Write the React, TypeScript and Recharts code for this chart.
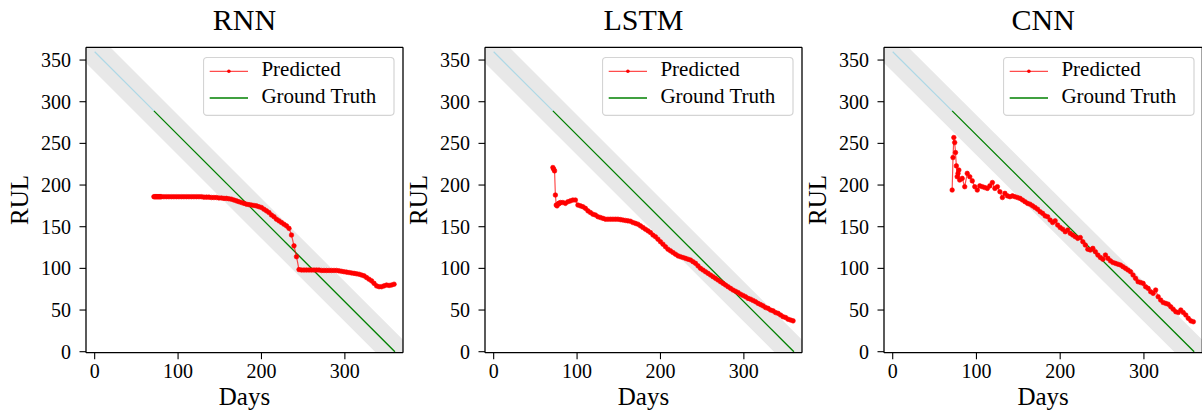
import React from 'react';
import { ComposedChart, Line, Area, XAxis, YAxis, ReferenceLine, Legend } from 'recharts';

const FONT = '"Liberation Serif", "Times New Roman", Times, serif';

const DAYS = [
  71, 72, 73, 74, 75, 76, 77, 78, 79, 80,
  83, 86, 89, 92, 95, 98, 101, 104, 107, 110,
  113, 116, 119, 122, 125, 128, 131, 134, 137, 140,
  143, 146, 149, 152, 155, 158, 161, 164, 167, 170,
  173, 176, 179, 182, 185, 188, 191, 194, 197, 200,
  203, 206, 209, 212, 215, 218, 221, 224, 227, 230,
  233, 236, 239, 242, 245, 248, 251, 254, 257, 260,
  263, 266, 269, 272, 275, 278, 281, 284, 287, 290,
  293, 296, 299, 302, 305, 308, 311, 314, 317, 320,
  323, 326, 329, 332, 335, 338, 341, 344, 347, 350,
  353, 356, 359,
];

const RNN_PRED = [
  186, 186, 186, 186, 186, 186, 186, 186, 186, 186,
  186, 186, 186, 186, 186, 186, 186, 186, 186, 186,
  186, 186, 186, 186, 186, 186, 185.5, 185.5, 185.5, 185,
  185, 185, 184.5, 184.5, 184, 184, 183.5, 183, 182, 181,
  180, 179, 178, 177, 176.5, 176, 175.5, 175, 174, 173,
  171, 169, 167, 164, 162, 159, 157, 155, 153, 151,
  148, 140, 127, 114, 98.5, 98, 98, 98, 98, 98,
  98, 98, 98, 97.5, 97.5, 97.5, 97.5, 97.5, 97.5, 97.5,
  97, 96.5, 96, 95.5, 95, 94.5, 94, 93.5, 93, 92,
  91, 89, 87, 85, 82, 79, 78, 78, 79, 80,
  79.5, 80, 81,
];

const LSTM_PRED = [
  221, 219, 217, 188, 176, 175, 177, 178, 178, 179,
  179, 178, 180, 181, 182, 182, 176, 175, 174, 172,
  169, 167, 165, 164, 162, 161, 160, 159, 159, 159,
  159, 159, 159, 158.5, 158, 157.5, 157, 156.5, 155, 154,
  153, 151, 149, 147, 145, 143, 140, 138, 135, 132,
  129, 126, 123, 121, 119, 117, 115, 114, 113, 112,
  111, 110, 108, 106, 103, 100, 98, 96, 94, 92,
  90, 88, 86, 84, 82, 80, 78, 76, 74, 72.5,
  71, 69, 67.5, 66, 64, 63, 61.5, 60, 58, 56.5,
  55, 53, 52, 50, 49, 47, 46, 44, 42, 41,
  39, 38, 37,
];

const CNN_PRED = [
  194, 233, 257, 251, 239, 223, 210, 214, 218, 206,
  208, 198, 214, 210, 205, 198, 194, 199, 198, 197,
  196, 199, 203, 196, 198, 192, 185, 190, 187, 186,
  187, 186, 185, 184, 182, 180, 178, 177, 175, 173,
  171, 168, 166, 163, 162, 158, 155, 157, 152, 149,
  147, 144, 146, 142, 140, 138, 136, 137, 132, 128,
  123, 122, 124, 120, 116, 113, 111, 116, 112, 109,
  107, 106, 105, 104, 102, 100, 98, 96, 92, 88,
  84, 83, 82, 78, 76, 72, 70, 74, 66, 62,
  59, 58, 57, 54, 51, 48, 47, 50, 47, 44,
  40, 37, 36,
];

const GT_DAYS = [71, 360];
const GT_RUL = [289, 0];
const PRE_DAYS = [0, 71];
const PRE_RUL = [360, 289];
const BAND_DAYS = [-30, 390];
const BAND_LOW = [366, -54];
const BAND_HIGH = [414, -6];

const X_TICKS = [0, 100, 200, 300];
const Y_TICKS = [0, 50, 100, 150, 200, 250, 300, 350];
const TITLES = ['RNN', 'LSTM', 'CNN'];
const LEGEND_LABELS = ['Predicted', 'Ground Truth'];
const X_LABEL = 'Days';
const Y_LABEL = 'RUL';

const X_DOMAIN: [number, number] = [-10.4, 369.7];
const Y_DOMAIN: [number, number] = [-1.2, 365.3];

const PANEL_LEFT = [0, 399, 798];
const PANEL_WIDTH = [406, 406, 404.3];
const PANEL_RIGHT_MARGIN = [3, 3, 0];
const PLOT_LEFT = 86;
const PLOT_TOP = 47.3;
const PLOT_BOTTOM = 352.7;
const H = 414;

const renderLegend = () => (
  <svg width={192} height={59} style={{ display: 'block' }}>
    <rect x={0.5} y={0.5} width={190.5} height={57.8} rx={3.5} fill="#ffffff" fillOpacity={0.85} stroke="#d4d4d4" strokeWidth={1.2} />
    <line x1={6.7} x2={45} y1={14.3} y2={14.3} stroke="#ff0000" strokeOpacity={0.7} strokeWidth={1.3} />
    <circle cx={25.9} cy={14.3} r={1.8} fill="#ff0000" />
    <text x={58.4} y={19.3} fontSize={21} fontFamily={FONT} fill="#000">{LEGEND_LABELS[0]}</text>
    <line x1={6.7} x2={45} y1={41} y2={41} stroke="#008000" strokeWidth={1.3} />
    <text x={58.4} y={46} fontSize={21} fontFamily={FONT} fill="#000">{LEGEND_LABELS[1]}</text>
  </svg>
);

function Panel({ idx, pred }: { idx: number; pred: number[] }) {
  const width = PANEL_WIDTH[idx];
  const predData = DAYS.map((d, i) => ({ day: d, pred: pred[i] }));
  const gtData = GT_DAYS.map((d, i) => ({ day: d, truth: GT_RUL[i] }));
  const preData = PRE_DAYS.map((d, i) => ({ day: d, early: PRE_RUL[i] }));
  const bandData = BAND_DAYS.map((d, i) => ({ day: d, band: [BAND_LOW[i], BAND_HIGH[i]] }));
  const plotRight = width - PANEL_RIGHT_MARGIN[idx];
  const tickStyle = { fill: '#000', fontSize: 20, fontFamily: FONT };
  return (
    <div style={{ position: 'absolute', left: PANEL_LEFT[idx], top: 0, width, height: H }}>
      <ComposedChart
        width={width}
        height={H}
        margin={{ top: PLOT_TOP, right: PANEL_RIGHT_MARGIN[idx], bottom: H - PLOT_BOTTOM - 30, left: 0 }}
      >
        <XAxis
          dataKey="day"
          type="number"
          domain={X_DOMAIN}
          ticks={X_TICKS}
          allowDataOverflow
          height={30}
          tickSize={6.5}
          tickMargin={5}
          tick={tickStyle}
          axisLine={{ stroke: '#000', strokeWidth: 1.3 }}
          tickLine={{ stroke: '#000', strokeWidth: 1.1 }}
        />
        <YAxis
          type="number"
          domain={Y_DOMAIN}
          ticks={Y_TICKS}
          allowDataOverflow
          width={PLOT_LEFT}
          tickSize={6.5}
          tickMargin={8.5}
          tick={tickStyle}
          axisLine={{ stroke: '#000', strokeWidth: 1.3 }}
          tickLine={{ stroke: '#000', strokeWidth: 1.1 }}
        />
        <Area
          id={`band-${idx}`}
          data={bandData}
          dataKey="band"
          type="linear"
          stroke="none"
          fill="#e8e8e8"
          fillOpacity={1}
          isAnimationActive={false}
          activeDot={false}
        />
        <Line id={`early-${idx}`} data={preData} dataKey="early" type="linear" stroke="#add8e6" strokeWidth={1.2} dot={false} activeDot={false} isAnimationActive={false} />
        <Line id={`truth-${idx}`} data={gtData} dataKey="truth" type="linear" stroke="#008000" strokeWidth={1.3} dot={false} activeDot={false} isAnimationActive={false} />
        <Line
          id={`pred-${idx}`}
          data={predData}
          dataKey="pred"
          type="linear"
          stroke="#ff0000"
          strokeOpacity={0.7}
          strokeWidth={1.2}
          dot={{ r: 2.3, fill: '#ff0000', stroke: '#ff0000', strokeOpacity: 1, strokeWidth: 0.6 }}
          activeDot={false}
          isAnimationActive={false}
        />
        <ReferenceLine y={Y_DOMAIN[1]} stroke="#000" strokeWidth={1.3} />
        <ReferenceLine x={X_DOMAIN[1]} stroke="#000" strokeWidth={1.3} />
        <Legend
          layout="horizontal"
          verticalAlign="middle"
          align="center"
          content={renderLegend}
          wrapperStyle={{ position: 'absolute', left: plotRight - 199.7, top: 56.7, width: 192, height: 59 }}
        />
      </ComposedChart>
    </div>
  );
}

export default function App() {
  const preds = [RNN_PRED, LSTM_PRED, CNN_PRED];
  return (
    <div style={{ position: 'absolute', left: 0, top: 0, width: 1203, height: H, overflow: 'hidden', background: '#fff' }}>
      {preds.map((p, i) => (
        <Panel key={i} idx={i} pred={p} />
      ))}
      <svg width={1203} height={H} style={{ position: 'absolute', left: 0, top: 0, pointerEvents: 'none' }}>
        {TITLES.map((t, i) => {
          const cx = PANEL_LEFT[i] + PLOT_LEFT + (PANEL_WIDTH[i] - PANEL_RIGHT_MARGIN[i] - PLOT_LEFT) / 2;
          return (
            <g key={t}>
              <text x={cx} y={30} textAnchor="middle" fontSize={30} fontFamily={FONT} fill="#000">{t}</text>
              <text x={cx} y={405} textAnchor="middle" fontSize={25} fontFamily={FONT} fill="#000">{X_LABEL}</text>
              <text
                transform={`translate(${PANEL_LEFT[i] + 28.3},${(PLOT_TOP + PLOT_BOTTOM) / 2}) rotate(-90)`}
                textAnchor="middle"
                fontSize={25}
                fontFamily={FONT}
                fill="#000"
              >
                {Y_LABEL}
              </text>
            </g>
          );
        })}
      </svg>
    </div>
  );
}
